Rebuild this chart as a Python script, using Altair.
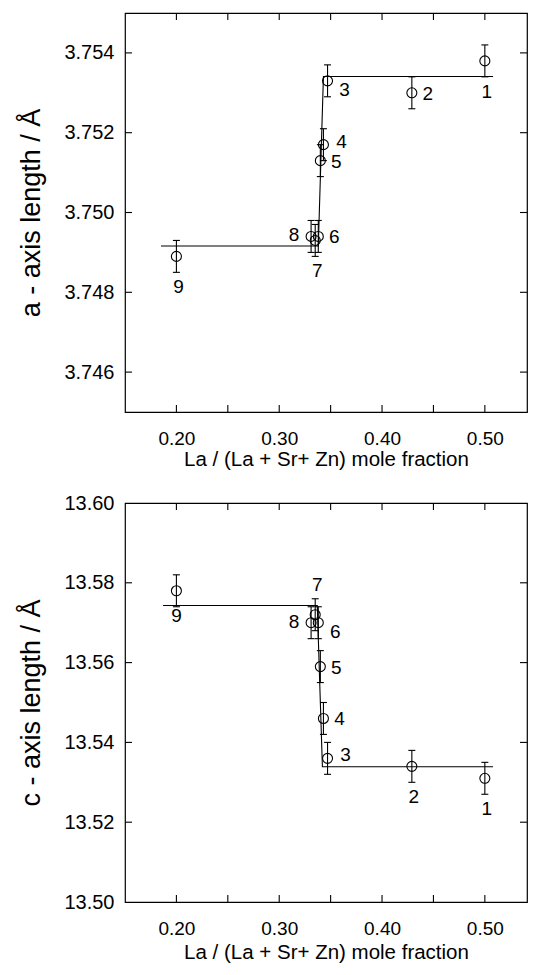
import altair as alt
import pandas as pd

# ---------------- data ----------------
sample = [1, 2, 3, 4, 5, 6, 7, 8, 9]
la_frac = [0.500, 0.429, 0.347, 0.343, 0.340, 0.338, 0.335, 0.331, 0.200]

a_axis = [3.7538, 3.7530, 3.7533, 3.7517, 3.7513, 3.7494, 3.7493, 3.7494, 3.7489]
a_err = [0.0004, 0.0004, 0.0004, 0.0004, 0.0004, 0.0004, 0.0004, 0.0004, 0.0004]
a_label_pos = ["below", "right", "rlow", "rup", "right", "right", "below", "left", "below"]

c_axis = [13.531, 13.534, 13.536, 13.546, 13.559, 13.570, 13.572, 13.570, 13.578]
c_err = [0.004, 0.004, 0.004, 0.004, 0.004, 0.004, 0.004, 0.004, 0.004]
c_label_pos = ["below", "below", "rup", "right", "right", "rlow", "above", "left", "bnear"]

a_fit_x = [0.185, 0.338, 0.343, 0.508]
a_fit_y = [3.74916, 3.74916, 3.75341, 3.75341]
c_fit_x = [0.187, 0.337, 0.342, 0.508]
c_fit_y = [13.5743, 13.5743, 13.5339, 13.5339]

x_ticks = [0.20, 0.25, 0.30, 0.35, 0.40, 0.45, 0.50]
x_labels = [0.20, 0.30, 0.40, 0.50]
a_ticks = [3.746, 3.748, 3.750, 3.752, 3.754]
c_ticks = [13.52, 13.54, 13.56, 13.58]
c_labels = [13.50, 13.52, 13.54, 13.56, 13.58, 13.60]

# ---------------- styles ----------------
W, H = 402, 399
FONT = "Liberation Sans"
TICK = 7
label_offsets = {
    "right": (16, 1), "rlow": (17, 9), "rup": (18, -3), "left": (-17, -1),
    "below": (2, 31), "bnear": (0, 25), "above": (2, -30),
}
xs = alt.Scale(domain=[0.15, 0.541], nice=False, zero=False)
X_TITLE = "La / (La + Sr+ Zn) mole fraction"


def panel(yvals, errs, label_pos, fit_x, fit_y, ydomain, yticks, ylabels, yfmt,
          ytitle, xlab_pad, xtitle_pad):
    ys = alt.Scale(domain=ydomain, nice=False, zero=False)
    xax = alt.Axis(values=x_labels, format=".2f", title=X_TITLE,
                   labelFontSize=19, titleFontSize=20.5, labelPadding=xlab_pad,
                   titlePadding=xtitle_pad)
    yax = alt.Axis(values=ylabels, format=yfmt, title=ytitle,
                   labelFontSize=20, titleFontSize=27, labelPadding=11,
                   titlePadding=18)
    df = pd.DataFrame({
        "x": la_frac, "y": yvals,
        "lo": [v - e for v, e in zip(yvals, errs)],
        "hi": [v + e for v, e in zip(yvals, errs)],
        "s": [str(s) for s in sample], "pos": label_pos,
    })
    fit = pd.DataFrame({"fx": fit_x, "fy": fit_y})
    xt = pd.DataFrame({"t": x_ticks})
    yt = pd.DataFrame({"t": yticks})

    def X(f):
        return alt.X(f, scale=xs, axis=xax, title=X_TITLE)

    def Y(f):
        return alt.Y(f, scale=ys, axis=yax, title=ytitle)

    base = alt.Chart(df)
    points = base.mark_point(shape="circle", filled=False, size=100,
                             color="black", strokeWidth=1.1, opacity=1).encode(
        x=X("x:Q"), y=Y("y:Q"))
    bars = base.mark_rule(color="black", strokeWidth=1.1).encode(
        x=X("x:Q"), y=Y("lo:Q"), y2="hi:Q")
    cap_lo = base.mark_tick(orient="horizontal", size=7, thickness=1.1,
                            color="black", opacity=1).encode(x=X("x:Q"), y=Y("lo:Q"))
    cap_hi = base.mark_tick(orient="horizontal", size=7, thickness=1.1,
                            color="black", opacity=1).encode(x=X("x:Q"), y=Y("hi:Q"))
    line = alt.Chart(fit).mark_line(color="black", strokeWidth=1.1).encode(
        x=X("fx:Q"), y=Y("fy:Q"), order=alt.Order("fx:Q"))

    texts = []
    for name, (dx, dy) in label_offsets.items():
        if name not in label_pos:
            continue
        texts.append(base.transform_filter(alt.datum.pos == name).mark_text(
            font=FONT, fontSize=19, color="black", dx=dx, dy=dy,
            align="center", baseline="middle").encode(
            x=X("x:Q"), y=Y("y:Q"), text="s:N"))

    tick_rule = dict(color="black", strokeWidth=1.1)
    xb = alt.Chart(xt).mark_rule(**tick_rule).encode(
        x=X("t:Q"), y=alt.value(H), y2=alt.value(H - TICK))
    xtop = alt.Chart(xt).mark_rule(**tick_rule).encode(
        x=X("t:Q"), y=alt.value(0), y2=alt.value(TICK))
    yl = alt.Chart(yt).mark_rule(**tick_rule).encode(
        y=Y("t:Q"), x=alt.value(0), x2=alt.value(TICK))
    yr = alt.Chart(yt).mark_rule(**tick_rule).encode(
        y=Y("t:Q"), x=alt.value(W - TICK), x2=alt.value(W))

    return alt.layer(points, line, bars, cap_lo, cap_hi, *texts, xb, xtop, yl, yr
                     ).properties(width=W, height=H)


top = panel(a_axis, a_err, a_label_pos, a_fit_x, a_fit_y, [3.745, 3.755],
            a_ticks, a_ticks, ".3f", "a - axis length / Å", 17, 1.5)
bottom = panel(c_axis, c_err, c_label_pos, c_fit_x, c_fit_y, [13.50, 13.60],
               c_ticks, c_labels, ".2f", "c - axis length / Å", 17, 4)

chart = alt.vconcat(top, bottom, spacing=21).properties(
    padding={"left": 9, "top": 3, "right": 0, "bottom": -1},
    background="white",
).configure_view(stroke="black", strokeWidth=1.2).configure_axis(
    labelFont=FONT, titleFont=FONT, labelColor="black", titleColor="black",
    titleFontWeight="normal", domain=False, ticks=False, tickSize=0, grid=False,
)

chart.save("out.html", embed_options={"renderer": "svg", "actions": False})
